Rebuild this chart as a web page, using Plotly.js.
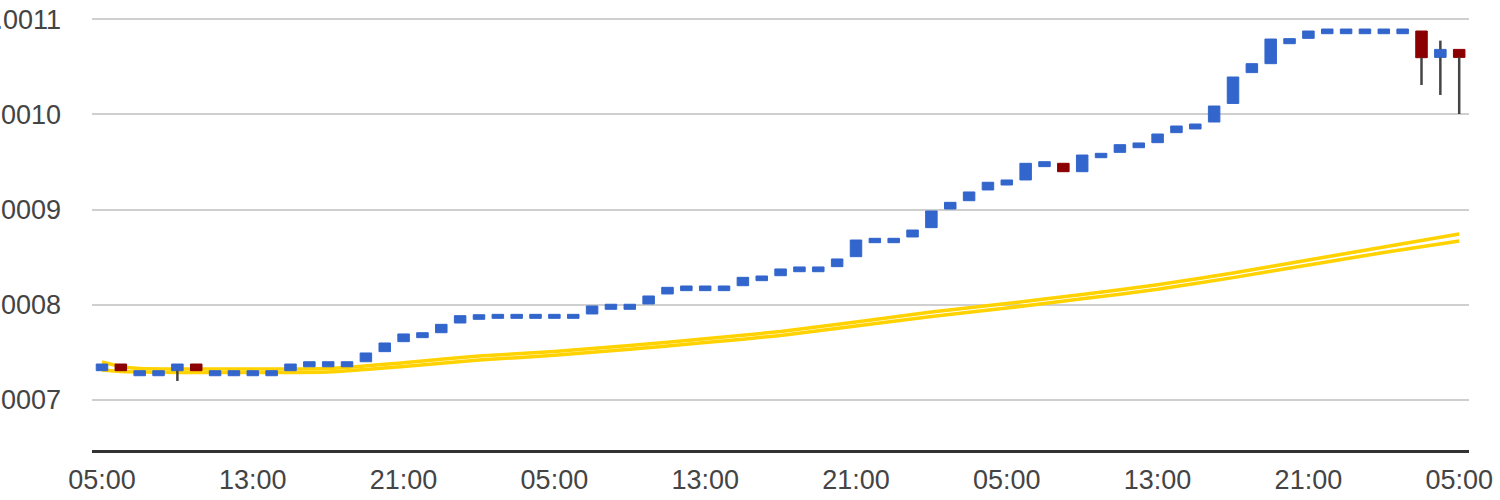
<!DOCTYPE html>
<html>
<head>
<meta charset="utf-8">
<script src="https://cdn.plot.ly/plotly-3.0.1.min.js"></script>
<style>
  html, body { margin: 0; padding: 0; background: #fff; }
  #chart { width: 1500px; height: 500px; }
</style>
</head>
<body>
<div id="chart"></div>
<script>
// Hourly candles, 05:00 on day one to 05:00 three days later
const START = Date.UTC(2013, 5, 1, 5, 0);
const HOUR = 3600 * 1000;

const OPEN = [
  0.0007308, 0.0007378, 0.0007255, 0.0007255, 0.0007308, 0.0007378, 0.0007255, 0.0007255,
  0.0007255, 0.0007255, 0.0007308, 0.0007349, 0.0007349, 0.0007349, 0.0007402, 0.0007508,
  0.0007613, 0.0007655, 0.0007707, 0.0007809, 0.0007848, 0.0007858, 0.0007858, 0.0007858,
  0.0007858, 0.0007858, 0.0007904, 0.0007953, 0.0007953, 0.0008009, 0.0008114, 0.0008149,
  0.0008149, 0.0008149, 0.0008201, 0.0008254, 0.0008306, 0.0008348, 0.0008348, 0.0008401,
  0.0008506, 0.0008653, 0.0008653, 0.0008713, 0.0008811, 0.0009007, 0.0009094, 0.0009207,
  0.0009259, 0.0009312, 0.0009452, 0.0009487, 0.0009399, 0.0009546, 0.0009602, 0.0009651,
  0.0009704, 0.0009809, 0.0009848, 0.0009921, 0.0010116, 0.0010440, 0.0010534, 0.0010744,
  0.0010800, 0.0010849, 0.0010849, 0.0010849, 0.0010849, 0.0010849, 0.0010877, 0.0010600,
  0.0010684
];
const CLOSE = [
  0.0007378, 0.0007308, 0.0007308, 0.0007308, 0.0007378, 0.0007308, 0.0007308, 0.0007308,
  0.0007308, 0.0007308, 0.0007378, 0.0007402, 0.0007402, 0.0007402, 0.0007494, 0.0007599,
  0.0007694, 0.0007707, 0.0007795, 0.0007886, 0.0007896, 0.0007900, 0.0007900, 0.0007900,
  0.0007900, 0.0007900, 0.0007988, 0.0008006, 0.0008006, 0.0008093, 0.0008184, 0.0008198,
  0.0008198, 0.0008198, 0.0008289, 0.0008303, 0.0008377, 0.0008398, 0.0008398, 0.0008482,
  0.0008681, 0.0008699, 0.0008699, 0.0008786, 0.0008986, 0.0009077, 0.0009186, 0.0009288,
  0.0009312, 0.0009487, 0.0009504, 0.0009399, 0.0009574, 0.0009592, 0.0009683, 0.0009701,
  0.0009795, 0.0009879, 0.0009900, 0.0010089, 0.0010394, 0.0010534, 0.0010793, 0.0010797,
  0.0010877, 0.0010898, 0.0010898, 0.0010898, 0.0010898, 0.0010898, 0.0010597, 0.0010684,
  0.0010600
];
const HIGH = [
  0.0007378, 0.0007378, 0.0007308, 0.0007308, 0.0007378, 0.0007378, 0.0007308, 0.0007308,
  0.0007308, 0.0007308, 0.0007378, 0.0007402, 0.0007402, 0.0007402, 0.0007494, 0.0007599,
  0.0007694, 0.0007707, 0.0007795, 0.0007886, 0.0007896, 0.0007900, 0.0007900, 0.0007900,
  0.0007900, 0.0007900, 0.0007988, 0.0008006, 0.0008006, 0.0008093, 0.0008184, 0.0008198,
  0.0008198, 0.0008198, 0.0008289, 0.0008303, 0.0008377, 0.0008398, 0.0008398, 0.0008482,
  0.0008681, 0.0008699, 0.0008699, 0.0008786, 0.0008986, 0.0009077, 0.0009186, 0.0009288,
  0.0009312, 0.0009487, 0.0009504, 0.0009487, 0.0009574, 0.0009592, 0.0009683, 0.0009701,
  0.0009795, 0.0009879, 0.0009900, 0.0010089, 0.0010394, 0.0010534, 0.0010793, 0.0010797,
  0.0010877, 0.0010898, 0.0010898, 0.0010898, 0.0010898, 0.0010898, 0.0010877, 0.0010776,
  0.0010684
];
const LOW = [
  0.0007308, 0.0007308, 0.0007255, 0.0007255, 0.0007200, 0.0007308, 0.0007255, 0.0007255,
  0.0007255, 0.0007255, 0.0007308, 0.0007349, 0.0007349, 0.0007349, 0.0007402, 0.0007508,
  0.0007613, 0.0007655, 0.0007707, 0.0007809, 0.0007848, 0.0007858, 0.0007858, 0.0007858,
  0.0007858, 0.0007858, 0.0007904, 0.0007953, 0.0007953, 0.0008009, 0.0008114, 0.0008149,
  0.0008149, 0.0008149, 0.0008201, 0.0008254, 0.0008306, 0.0008348, 0.0008348, 0.0008401,
  0.0008506, 0.0008653, 0.0008653, 0.0008713, 0.0008811, 0.0009007, 0.0009094, 0.0009207,
  0.0009259, 0.0009312, 0.0009452, 0.0009399, 0.0009399, 0.0009546, 0.0009602, 0.0009651,
  0.0009704, 0.0009809, 0.0009848, 0.0009921, 0.0010116, 0.0010440, 0.0010534, 0.0010744,
  0.0010800, 0.0010849, 0.0010849, 0.0010849, 0.0010849, 0.0010849, 0.0010310, 0.0010205,
  0.0010005
];

// Two yellow average lines, read at these hour offsets
const AVG_HOURS = [0, 1, 2, 4, 8, 12, 16, 20, 24, 28, 32, 36, 40, 44, 48, 52, 56, 60, 64, 68, 72];
const AVG_UPPER = [
  0.0007399, 0.0007352, 0.0007331, 0.0007326, 0.0007326, 0.0007331, 0.0007391, 0.0007462,
  0.0007510, 0.0007573, 0.0007643, 0.0007720, 0.0007820, 0.0007925, 0.0008014, 0.0008109,
  0.0008211, 0.0008335, 0.0008471, 0.0008608, 0.0008744
];
const AVG_LOWER = [
  0.0007315, 0.0007299, 0.0007294, 0.0007289, 0.0007289, 0.0007294, 0.0007352, 0.0007420,
  0.0007470, 0.0007533, 0.0007603, 0.0007678, 0.0007778, 0.0007877, 0.0007967, 0.0008063,
  0.0008163, 0.0008286, 0.0008419, 0.0008550, 0.0008671
];

const RISE_COLOR = "#3366cc";
const FALL_COLOR = "#8b0000";
const WICK_COLOR = "#444444";
const AVG_COLOR = "#ffd200";
const FONT = { family: "Arial, 'Liberation Sans', sans-serif", size: 27, color: "#444" };

const times = OPEN.map((_, i) => START + i * HOUR);
const avgTimes = AVG_HOURS.map((h) => START + h * HOUR);

// Bodies only: whiskers are drawn separately in dark grey
const bodyTop = OPEN.map((o, i) => Math.max(o, CLOSE[i]));
const bodyBottom = OPEN.map((o, i) => Math.min(o, CLOSE[i]));

// Wick segments that stick out of a body
const wickX = [];
const wickY = [];
for (let i = 0; i < times.length; i++) {
  if (HIGH[i] > bodyTop[i]) {
    wickX.push(times[i], times[i], null);
    wickY.push(bodyTop[i], HIGH[i], null);
  }
  if (LOW[i] < bodyBottom[i]) {
    wickX.push(times[i], times[i], null);
    wickY.push(LOW[i], bodyBottom[i], null);
  }
}

const xRange = [START - 0.53 * HOUR, START + 72.52 * HOUR];
const yRange = [0.00064746, 0.00111505];

const data = [
  {
    x: avgTimes, y: AVG_UPPER, type: "scatter", mode: "lines",
    line: { color: AVG_COLOR, width: 3.5, shape: "spline", smoothing: 0.6 },
    xaxis: "x", yaxis: "y",
  },
  {
    x: avgTimes, y: AVG_LOWER, type: "scatter", mode: "lines",
    line: { color: AVG_COLOR, width: 3.5, shape: "spline", smoothing: 0.6 },
    xaxis: "x", yaxis: "y",
  },
  {
    x: times, open: OPEN, high: bodyTop, low: bodyBottom, close: CLOSE,
    type: "candlestick",
    increasing: { line: { color: RISE_COLOR, width: 1 }, fillcolor: RISE_COLOR },
    decreasing: { line: { color: FALL_COLOR, width: 1 }, fillcolor: FALL_COLOR },
    whiskerwidth: 0,
    xaxis: "x2", yaxis: "y2",
  },
  {
    x: wickX, y: wickY, type: "scatter", mode: "lines",
    line: { color: WICK_COLOR, width: 2.5 },
    connectgaps: false,
    xaxis: "x2", yaxis: "y2",
  },
];

const layout = {
  width: 1500,
  height: 500,
  margin: { l: 92, r: 31, t: 5, b: 50 },
  paper_bgcolor: "#fff",
  plot_bgcolor: "#fff",
  showlegend: false,
  hovermode: false,
  boxgap: 0.39,
  boxgroupgap: 0,
  xaxis: {
    type: "date",
    range: xRange,
    tick0: START,
    dtick: 8 * HOUR,
    tickformat: "%H:%M",
    showgrid: false,
    zeroline: false,
    showline: true,
    linecolor: "#333",
    linewidth: 3,
    ticks: "",
    ticklabelstandoff: 4,
    tickfont: FONT,
    rangeslider: { visible: false },
    fixedrange: true,
  },
  yaxis: {
    range: yRange,
    tick0: 0,
    dtick: 0.0001,
    tickformat: ".4f",
    showgrid: true,
    gridcolor: "#cfcfcf",
    gridwidth: 2,
    zeroline: false,
    showline: false,
    ticks: "",
    ticklabelstandoff: 30,
    tickfont: FONT,
    fixedrange: true,
  },
  xaxis2: {
    type: "date",
    overlaying: "x",
    range: xRange,
    visible: false,
    rangeslider: { visible: false },
    fixedrange: true,
  },
  yaxis2: {
    overlaying: "y",
    range: yRange,
    visible: false,
    fixedrange: true,
  },
};

Plotly.newPlot("chart", data, layout, { staticPlot: true, displayModeBar: false });
</script>
</body>
</html>
